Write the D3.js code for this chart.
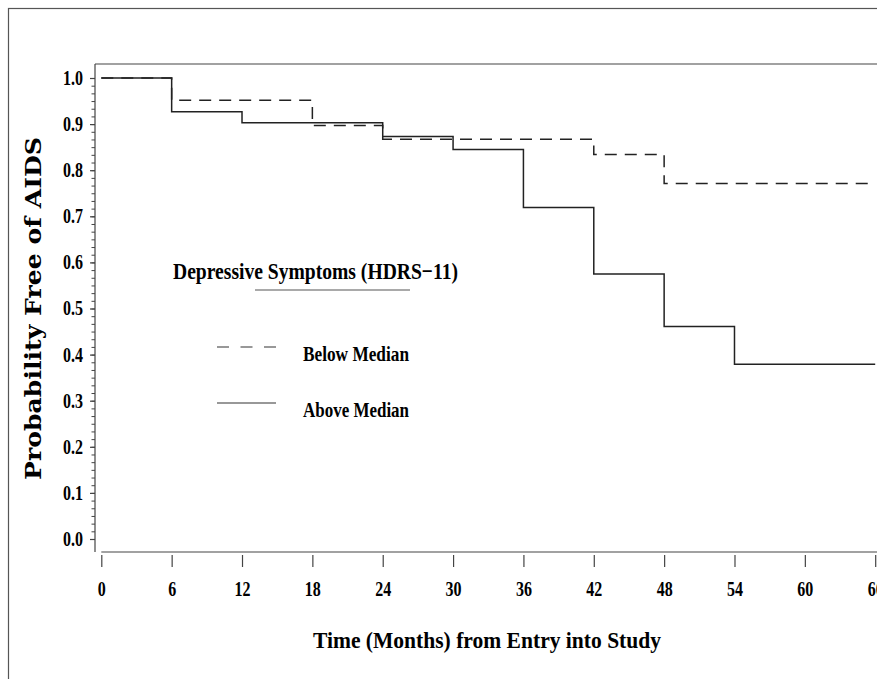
<!DOCTYPE html>
<html>

<head>
    <meta charset="utf-8">
    <title>Probability Free of AIDS</title>
    <script src="https://d3js.org/d3.v7.min.js"></script>
    <style>
        body {
            margin: 0;
            background: #fff;
        }

        svg text {
            font-family: 'Liberation Serif', 'Times New Roman', serif;
            fill: #000;
        }

        .tick-label {
            font-size: 20px;
            font-weight: bold;
        }

        .ytitle {
            font-family: 'DejaVu Serif', serif !important;
            font-weight: bold;
            font-size: 22px;
        }

        .big-text {
            font-size: 24px;
            font-weight: bold;
        }

        .legend-text {
            font-size: 21px;
            font-weight: bold;
        }
    </style>
</head>

<body>
    <div id="chart"></div>
    <script>
        // tick labels
        const xTicks = [0, 6, 12, 18, 24, 30, 36, 42, 48, 54, 60, 66]
        const yTicks = [0, 0.1, 0.2, 0.3, 0.4, 0.5, 0.6, 0.7, 0.8, 0.9, 1.0]

        // Kaplan-Meier steps, below median (dashed)
        const belowTimes = [0, 6, 18, 24, 42, 48, 66]
        const belowProb = [1.0, 0.952, 0.897, 0.867, 0.834, 0.771, 0.771]

        // above median (solid)
        const aboveTimes = [0, 6, 12, 24, 30, 36, 42, 48, 54, 66]
        const aboveProb = [1.0, 0.927, 0.903, 0.873, 0.845, 0.719, 0.575, 0.461, 0.379, 0.379]

        const groups = ["Below Median", "Above Median"]

        const width = 877, height = 679

        const svg = d3.select("#chart").append("svg")
            .attr("width", width)
            .attr("height", height)

        const x = d3.scaleLinear().domain([0, 66]).range([101.3, 875.2])
        const y = d3.scaleLinear().domain([0, 1]).range([539, 78])

        const axisColor = "#444"

        // squeeze text horizontally, the original font is a condensed one
        function condense(sel, k) {
            sel.each(function () {
                const w = this.getComputedTextLength()
                d3.select(this)
                    .attr("textLength", w * k)
                    .attr("lengthAdjust", "spacingAndGlyphs")
            })
        }

        // outer frame
        svg.append("rect")
            .attr("x", 8.5).attr("y", 8.5)
            .attr("width", 900).attr("height", 700)
            .attr("fill", "none")
            .attr("stroke", "#555")
            .attr("stroke-width", 1.2)

        // top frame line of plot
        svg.append("line")
            .attr("x1", 95).attr("x2", width)
            .attr("y1", 64).attr("y2", 64)
            .attr("stroke", axisColor)
            .attr("stroke-width", 1.2)

        // y axis line
        svg.append("line")
            .attr("x1", 95).attr("x2", 95)
            .attr("y1", 64).attr("y2", 552)
            .attr("stroke", axisColor)
            .attr("stroke-width", 1.2)

        // x axis line
        svg.append("line")
            .attr("x1", x(0)).attr("x2", width)
            .attr("y1", 552).attr("y2", 552)
            .attr("stroke", axisColor)
            .attr("stroke-width", 1.2)

        // y axis minor ticks
        const minor = d3.range(0, 61).map(i => i / 60)
        svg.append("g")
            .attr("transform", "translate(95,0)")
            .call(d3.axisLeft(y).tickValues(minor).tickSize(3.5).tickFormat(""))
            .call(g => g.select(".domain").remove())
            .call(g => g.selectAll("line").attr("stroke", axisColor))

        // y axis major ticks
        const yAxis = svg.append("g")
            .attr("transform", "translate(95,0)")
            .call(d3.axisLeft(y).tickValues(yTicks).tickSize(5).tickPadding(7).tickFormat(d3.format(".1f")))
        yAxis.select(".domain").remove()
        yAxis.selectAll("line").attr("stroke", axisColor).attr("stroke-width", 1.2)
        yAxis.selectAll("text").attr("class", "tick-label").attr("fill", "#000")
            .attr("font-family", null).attr("font-size", null)
            .call(condense, 0.8)

        // x axis ticks
        const xAxis = svg.append("g")
            .attr("transform", "translate(0,555)")
            .call(d3.axisBottom(x).tickValues(xTicks).tickSize(12).tickPadding(15))
        xAxis.select(".domain").remove()
        xAxis.selectAll("line").attr("stroke", axisColor).attr("stroke-width", 1.2)
        xAxis.selectAll("text").attr("class", "tick-label").attr("fill", "#000")
            .call(condense, 0.8)

        // survival curves
        const step = d3.line()
            .x(d => x(d[0]))
            .y(d => y(d[1]))
            .curve(d3.curveStepAfter)

        svg.append("path")
            .datum(d3.zip(aboveTimes, aboveProb))
            .attr("d", step)
            .attr("fill", "none")
            .attr("stroke", "#222")
            .attr("stroke-width", 1.5)

        svg.append("path")
            .datum(d3.zip(belowTimes, belowProb))
            .attr("d", step)
            .attr("fill", "none")
            .attr("stroke", "#222")
            .attr("stroke-width", 1.5)
            .attr("stroke-dasharray", "12,8")

        // legend
        const legend = svg.append("g").attr("id", "legend")

        legend.append("text")
            .attr("class", "big-text")
            .attr("x", 173).attr("y", 279)
            .attr("textLength", 285)
            .attr("lengthAdjust", "spacingAndGlyphs")
            .text("Depressive Symptoms (HDRS\u221211)")

        legend.append("line")
            .attr("x1", 255).attr("x2", 410)
            .attr("y1", 290).attr("y2", 290)
            .attr("stroke", "#555")
            .attr("stroke-width", 1.2)

        groups.forEach((g, i) => {
            const ly = 347 + i * 56
            legend.append("line")
                .attr("x1", 217).attr("x2", 276)
                .attr("y1", ly).attr("y2", ly)
                .attr("stroke", "#333")
                .attr("stroke-width", 1.2)
                .attr("stroke-dasharray", i === 0 ? "12,11.5" : null)
            legend.append("text")
                .attr("class", "legend-text")
                .attr("x", 303).attr("y", ly + 14)
                .attr("textLength", 106)
                .attr("lengthAdjust", "spacingAndGlyphs")
                .text(g)
        })

        // axis titles
        svg.append("text")
            .attr("class", "ytitle")
            .attr("transform", "translate(41,308.5) rotate(-90)")
            .attr("text-anchor", "middle")
            .attr("textLength", 343)
            .attr("lengthAdjust", "spacingAndGlyphs")
            .text("Probability  Free  of  AIDS")

        svg.append("text")
            .attr("class", "big-text")
            .attr("x", 313).attr("y", 648)
            .attr("textLength", 348)
            .attr("lengthAdjust", "spacingAndGlyphs")
            .text("Time (Months) from Entry into Study")
    </script>
</body>

</html>
